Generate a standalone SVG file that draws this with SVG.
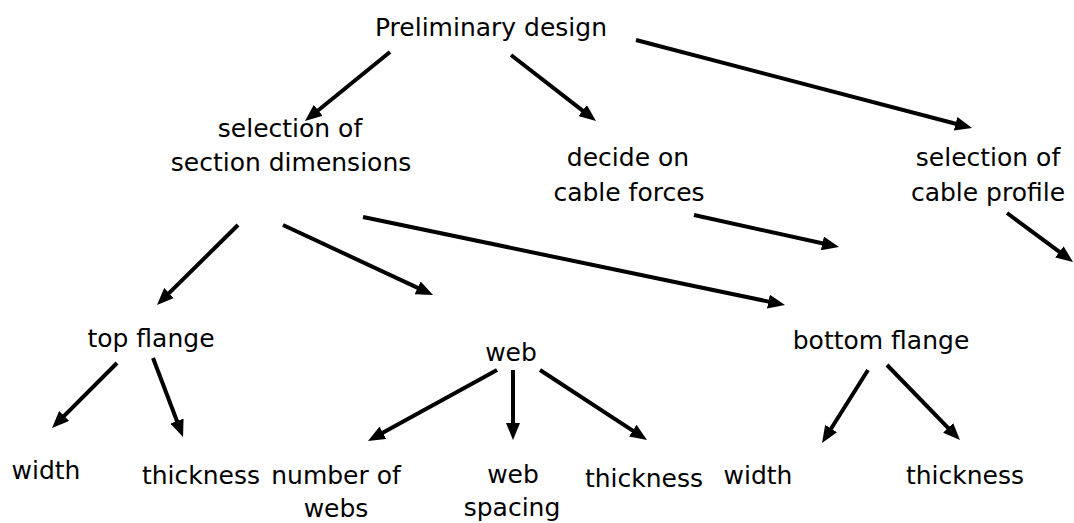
<svg xmlns="http://www.w3.org/2000/svg" width="1074" height="523" viewBox="0 0 1074 523">
  <style>
    .lbl { font-family: "DejaVu Sans", Verdana, sans-serif; font-size: 25px; fill: #000; text-anchor: middle; }
    .arr { stroke: #000; stroke-width: 4; fill: none; marker-end: url(#head); }
  </style>
  <defs>
    <marker id="head" viewBox="0 0 17 14" refX="9" refY="7" markerWidth="17" markerHeight="14" markerUnits="userSpaceOnUse" orient="auto">
      <path d="M0,0 L17,7 L0,14 Z" fill="#000"/>
    </marker>
  </defs>
  <rect width="1074" height="523" fill="#fff"/>

  <!-- nodes -->
  <g id="preliminary-design"><text class="lbl" x="491" y="36">Preliminary design</text></g>
  <g id="section-dimensions">
    <text class="lbl" x="290" y="137">selection of</text>
    <text class="lbl" x="291" y="171">section dimensions</text>
  </g>
  <g id="cable-forces">
    <text class="lbl" x="628" y="166">decide on</text>
    <text class="lbl" x="629" y="201">cable forces</text>
  </g>
  <g id="cable-profile">
    <text class="lbl" x="988" y="166">selection of</text>
    <text class="lbl" x="988" y="201">cable profile</text>
  </g>
  <g id="top-flange"><text class="lbl" x="151" y="347">top flange</text></g>
  <g id="web"><text class="lbl" x="511" y="361">web</text></g>
  <g id="bottom-flange"><text class="lbl" x="881" y="349">bottom flange</text></g>
  <g id="tf-width"><text class="lbl" x="46" y="479">width</text></g>
  <g id="tf-thickness"><text class="lbl" x="201" y="484">thickness</text></g>
  <g id="web-number">
    <text class="lbl" x="336" y="484">number of</text>
    <text class="lbl" x="336" y="517">webs</text>
  </g>
  <g id="web-spacing">
    <text class="lbl" x="513" y="483">web</text>
    <text class="lbl" x="512" y="516">spacing</text>
  </g>
  <g id="web-thickness"><text class="lbl" x="644" y="487">thickness</text></g>
  <g id="bf-width"><text class="lbl" x="758" y="484">width</text></g>
  <g id="bf-thickness"><text class="lbl" x="965" y="484">thickness</text></g>

  <!-- connectors -->
  <g id="connectors">
    <line class="arr" x1="390" y1="52" x2="311.2" y2="116"/>
    <line class="arr" x1="511" y1="55" x2="589.7" y2="116.1"/>
    <line class="arr" x1="636" y1="40" x2="964.3" y2="126"/>
    <line class="arr" x1="694" y1="215" x2="831.2" y2="245.3"/>
    <line class="arr" x1="1007" y1="213" x2="1066.6" y2="257.2"/>
    <line class="arr" x1="238" y1="225" x2="162.7" y2="299.4"/>
    <line class="arr" x1="283" y1="225" x2="425.8" y2="291.6"/>
    <line class="arr" x1="363" y1="217" x2="777.2" y2="303.4"/>
    <line class="arr" x1="117" y1="363" x2="57.7" y2="422.3"/>
    <line class="arr" x1="153" y1="358" x2="180.2" y2="429.5"/>
    <line class="arr" x1="497" y1="370" x2="375" y2="437.1"/>
    <line class="arr" x1="513" y1="370" x2="513" y2="432"/>
    <line class="arr" x1="540" y1="370" x2="640.3" y2="435.6"/>
    <line class="arr" x1="868" y1="370" x2="826.3" y2="436.2"/>
    <line class="arr" x1="887" y1="365" x2="954.4" y2="434.3"/>
  </g>
</svg>
